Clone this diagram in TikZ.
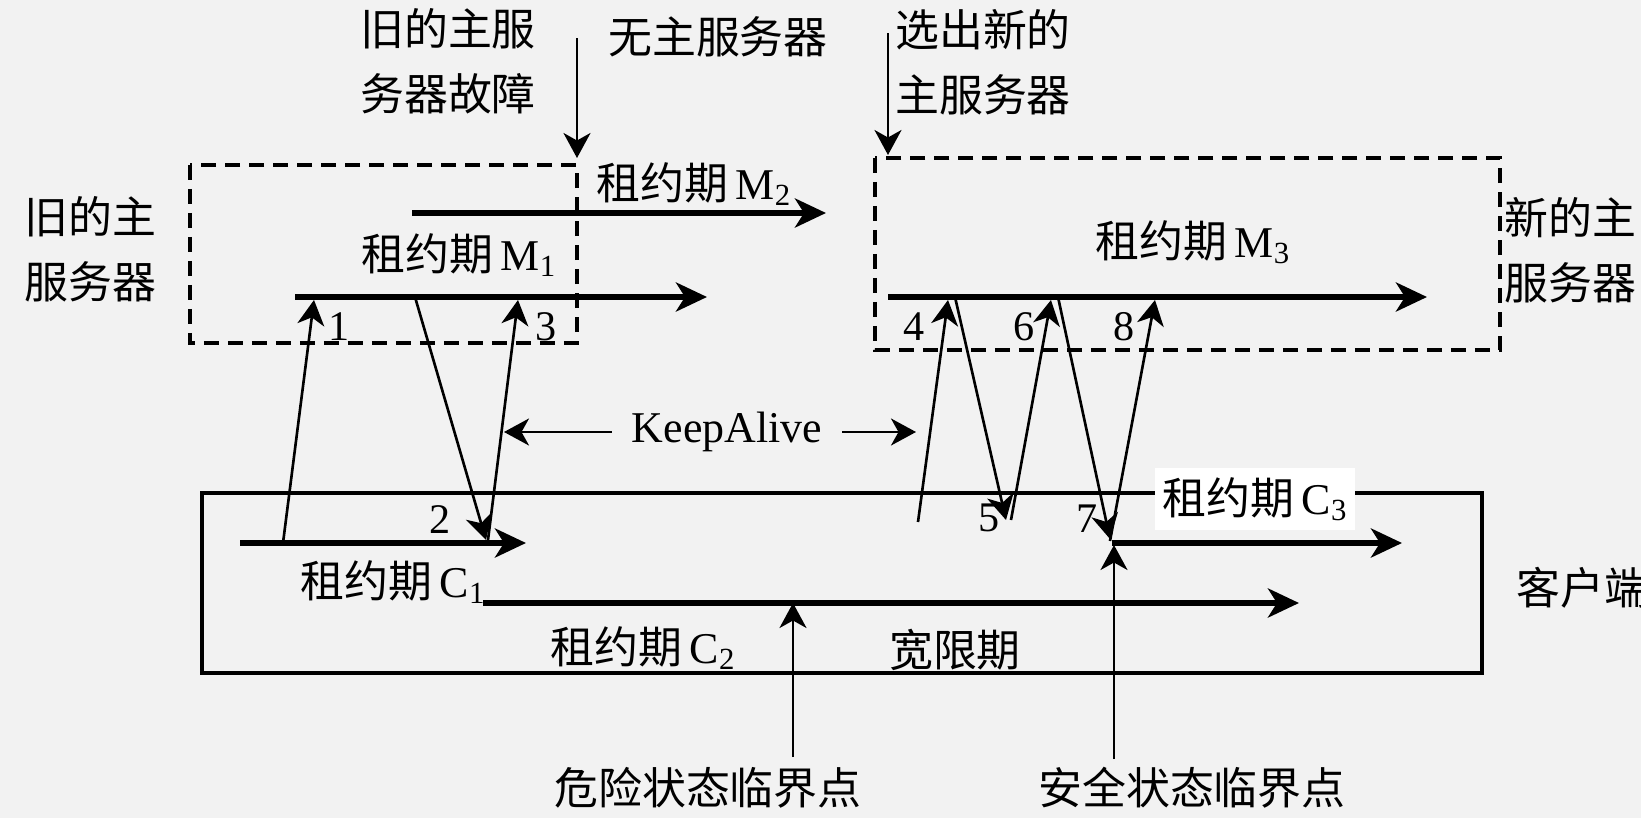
\documentclass[tikz,border=0pt]{standalone}
\usepackage{fontspec}
\setmainfont{Liberation Serif}
\newfontfamily\cjk{Noto Sans CJK SC}
\usetikzlibrary{arrows.meta}
\definecolor{bggray}{RGB}{242,242,242}
\newcommand{\lease}[2]{{\cjk 租约期}\,#1\textsubscript{#2}}

\begin{document}
\begin{tikzpicture}[x=0.02cm, y=-0.02cm, every node/.style={font=\fontsize{25}{37}\selectfont, inner sep=0pt},
	>={Stealth[length=0.5cm, width=0.54cm, inset=0.15cm]},
	msg/.style={->, line width=1.5pt},
	span/.style={-{Stealth[length=0.62cm, width=0.58cm, inset=0.18cm]}, line width=3.6pt},
	lbl/.style={font=\fontsize{25}{37}\selectfont\cjk, align=left},
	num/.style={font=\fontsize{24}{28}\selectfont}]
	\fill[bggray] (0,0) rectangle (1641,818);
	\useasboundingbox (0,0) rectangle (1641,818);
	% server and client boxes
	\draw[line width=2pt, dash pattern=on 0.3cm off 0.18cm] (190,165) rectangle (577,343);
	\draw[line width=2pt, dash pattern=on 0.3cm off 0.18cm] (875,158) rectangle (1500,350);
	\draw[line width=2pt] (202,493) rectangle (1482,673);
	% labels
	\node[lbl] (fail) at (448,61) {旧的主服\\务器故障};
	\node[lbl] (nomaster) at (718,37) {无主服务器};
	\node[lbl] (elect) at (983,62) {选出新的\\主服务器};
	\node[lbl, anchor=west] (oldsrv) at (24,249) {旧的主\\服务器};
	\node[lbl, anchor=west] (newsrv) at (1504,250) {新的主\\服务器};
	\node[lbl, anchor=west] (client) at (1516,588) {客户端};
	\node[lbl] (grace) at (955,650) {宽限期};
	\node[lbl] (danger) at (708,788) {危险状态临界点};
	\node[lbl] (safe) at (1192,788) {安全状态临界点};
	\node (lm1) at (459,255) {\lease{M}{1}};
	\node (lm2) at (694,184) {\lease{M}{2}};
	\node (lm3) at (1193,242) {\lease{M}{3}};
	\node (lc1) at (393,582) {\lease{C}{1}};
	\node (lc2) at (643,648) {\lease{C}{2}};
	\node[fill=white, minimum width=4cm, minimum height=1.24cm] (lc3) at (1255,499) {\lease{C}{3}};
	\node[inner xsep=0.4cm] (keep) at (727,432) {KeepAlive};
	% message numbers
	\node[num] (n1) at (339,327) {1};
	\node[num] (n2) at (440,520) {2};
	\node[num] (n3) at (546,327) {3};
	\node[num] (n4) at (914,327) {4};
	\node[num] (n5) at (989,518) {5};
	\node[num] (n6) at (1024,327) {6};
	\node[num] (n7) at (1087,519) {7};
	\node[num] (n8) at (1124,327) {8};
	% lease periods
	\coordinate (m1s) at (295,297); \coordinate (m1e) at (707,297);
	\coordinate (m2s) at (412,213); \coordinate (m2e) at (826,213);
	\coordinate (m3s) at (888,297); \coordinate (m3e) at (1427,297);
	\coordinate (c1s) at (240,543); \coordinate (c1e) at (526,543);
	\coordinate (c2s) at (483,603); \coordinate (c2e) at (1299,603);
	\coordinate (c3s) at (1112,543); \coordinate (c3e) at (1402,543);
	\draw[span] (m1s) -- (m1e);
	\draw[span] (m2s) -- (m2e);
	\draw[span] (m3s) -- (m3e);
	\draw[span] (c1s) -- (c1e);
	\draw[span] (c2s) -- (c2e);
	\draw[span] (c3s) -- (c3e);
	% messages between client and servers
	\coordinate (p1) at (283,543); \coordinate (q1) at (314,300);
	\coordinate (p2) at (415,297); \coordinate (q2) at (486,540);
	\coordinate (p3) at (488,540); \coordinate (q3) at (518,300);
	\coordinate (p4) at (918,522); \coordinate (q4) at (948,300);
	\coordinate (p5) at (955,297); \coordinate (q5) at (1006,520);
	\coordinate (p6) at (1011,520); \coordinate (q6) at (1051,300);
	\coordinate (p7) at (1058,297); \coordinate (q7) at (1110,539);
	\coordinate (p8) at (1110,541); \coordinate (q8) at (1155,300);
	\foreach \i in {1,...,8}
		\draw[msg] (p\i) -- (q\i);
	% events
	\coordinate (failpt) at (577,158); \coordinate (failtop) at (577,38);
	\coordinate (electpt) at (888,155); \coordinate (electtop) at (888,33);
	\draw[msg] (failtop) -- (failpt);
	\draw[msg] (electtop) -- (electpt);
	\coordinate (dangerbot) at (793,757); \coordinate (dangerpt) at (793,603);
	\coordinate (safebot) at (1114,759); \coordinate (safept) at (1114,545);
	\draw[msg] (dangerbot) -- (dangerpt);
	\draw[msg] (safebot) -- (safept);
	\coordinate (kl) at (504,432); \coordinate (kr) at (916,432);
	\draw[msg] (keep.west) -- (kl);
	\draw[msg] (keep.east) -- (kr);
\end{tikzpicture}
\end{document}
